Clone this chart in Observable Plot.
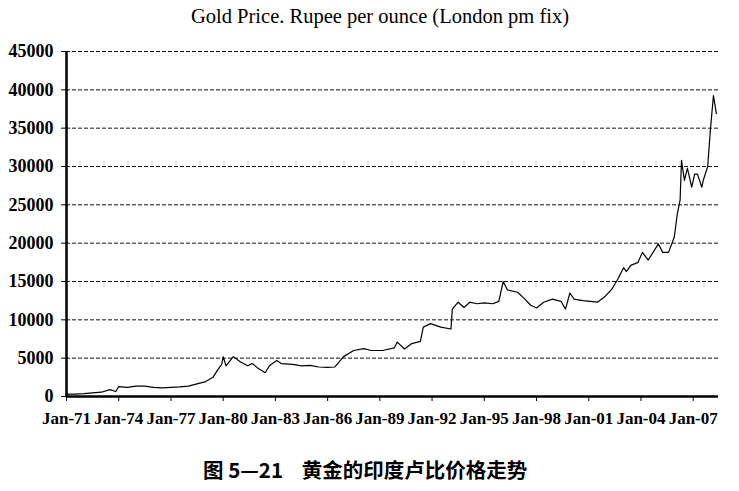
<!DOCTYPE html>
<html><head><meta charset="utf-8">
<script src="https://cdn.jsdelivr.net/npm/d3@7"></script>
<script src="https://cdn.jsdelivr.net/npm/@observablehq/plot@0.6"></script>
<style>
body{margin:0;background:#fff;}
#wrap{position:relative;width:739px;height:491px;overflow:hidden;background:#fff;}
#title{position:absolute;left:0;width:760px;top:5px;text-align:center;font:20.5px "Liberation Serif",serif;color:#000;}
#chart{position:absolute;left:0;top:34px;}
#caption{position:absolute;left:203px;top:454px;font:bold 20.5px "Noto Sans CJK SC",sans-serif;color:#000;white-space:pre;}
</style>
</head><body>
<div id="wrap">
  <div id="title">Gold Price. Rupee per ounce (London pm fix)</div>
  <div id="chart"></div>
  <div id="caption">图 5—21    黄金的印度卢比价格走势</div>
</div>
<script>
const months = ["1971-01","1971-07","1972-01","1972-07","1973-01","1973-07","1973-11","1974-01","1974-07","1975-01","1975-07","1976-01","1976-07","1977-01","1977-07","1978-01","1978-07","1979-01","1979-06","1979-09","1979-12","1980-01","1980-03","1980-08","1981-01","1981-06","1981-09","1982-01","1982-06","1982-09","1983-02","1983-05","1984-01","1984-07","1985-01","1985-07","1986-01","1986-06","1986-08","1986-12","1987-07","1988-02","1988-07","1989-03","1989-11","1990-01","1990-06","1990-11","1991-05","1991-07","1991-12","1992-07","1993-02","1993-03","1993-07","1993-11","1994-03","1994-08","1995-01","1995-07","1995-11","1996-02","1996-05","1996-12","1997-05","1997-09","1998-01","1998-06","1998-12","1999-06","1999-09","1999-12","2000-03","2000-09","2001-07","2001-12","2002-05","2002-09","2003-01","2003-03","2003-06","2003-11","2004-02","2004-06","2005-01","2005-04","2005-08","2005-12","2006-02","2006-04","2006-05","2006-07","2006-09","2006-12","2007-02","2007-04","2007-07","2007-08","2007-11","2008-01","2008-03","2008-05"];
const prices = [300,320,380,480,560,900,650,1300,1200,1350,1350,1200,1130,1200,1250,1350,1650,1950,2500,3400,4200,5200,4000,5200,4500,4000,4300,3700,3100,4050,4700,4300,4200,4000,4050,3850,3800,3850,4300,5200,6000,6250,6000,6000,6350,7100,6200,6900,7200,9050,9500,9050,8800,11400,12300,11600,12300,12100,12200,12100,12400,15000,13900,13600,12700,11900,11550,12300,12700,12400,11400,13500,12700,12500,12300,13000,14000,15300,16800,16300,17100,17500,18800,17800,19900,18800,18800,20800,23800,25600,30800,28200,29800,27300,29000,29000,27300,28200,30000,35100,39250,36900];
const yTicks = [0,5000,10000,15000,20000,25000,30000,35000,40000,45000];
const xTickYears = [1971,1974,1977,1980,1983,1986,1989,1992,1995,1998,2001,2004,2007];

const data = months.map((m,i)=>({date:new Date(m+"-01T00:00:00Z"), price:prices[i]}));
const xStart = new Date("1971-01-01T00:00:00Z");
const xEnd = new Date("2008-06-15T00:00:00Z");
const xTicks = xTickYears.map(y=>new Date(Date.UTC(y,0,1)));

const plot = Plot.plot({
  width:739, height:420,
  marginLeft:66, marginRight:21, marginTop:17, marginBottom:58,
  x:{type:"utc", domain:[xStart,xEnd]},
  y:{domain:[0,45000]},
  style:{fontFamily:'"Liberation Serif", serif', fontSize:"17px", fontWeight:"bold", color:"#000", background:"#fff", overflow:"visible"},
  marks:[
    Plot.ruleY(yTicks.filter(d=>d>0), {stroke:"#111", strokeWidth:1, strokeDasharray:"4,2"}),
    Plot.axisY({ticks:yTicks, tickSize:5, tickPadding:8, tickFormat:d=>String(d), label:null, fontSize:18}),
    Plot.axisX({ticks:xTicks, tickSize:5, tickPadding:10, tickFormat:d3.utcFormat("%b-%y"), label:null, fontSize:17}),
    Plot.line(data,{x:"date", y:"price", stroke:"#000", strokeWidth:1.2}),
    Plot.ruleX([xStart],{stroke:"#000", strokeWidth:2.5}),
    Plot.ruleY([0],{stroke:"#000", strokeWidth:2.5})
  ]
});
document.getElementById("chart").appendChild(plot);
</script>
</body></html>
